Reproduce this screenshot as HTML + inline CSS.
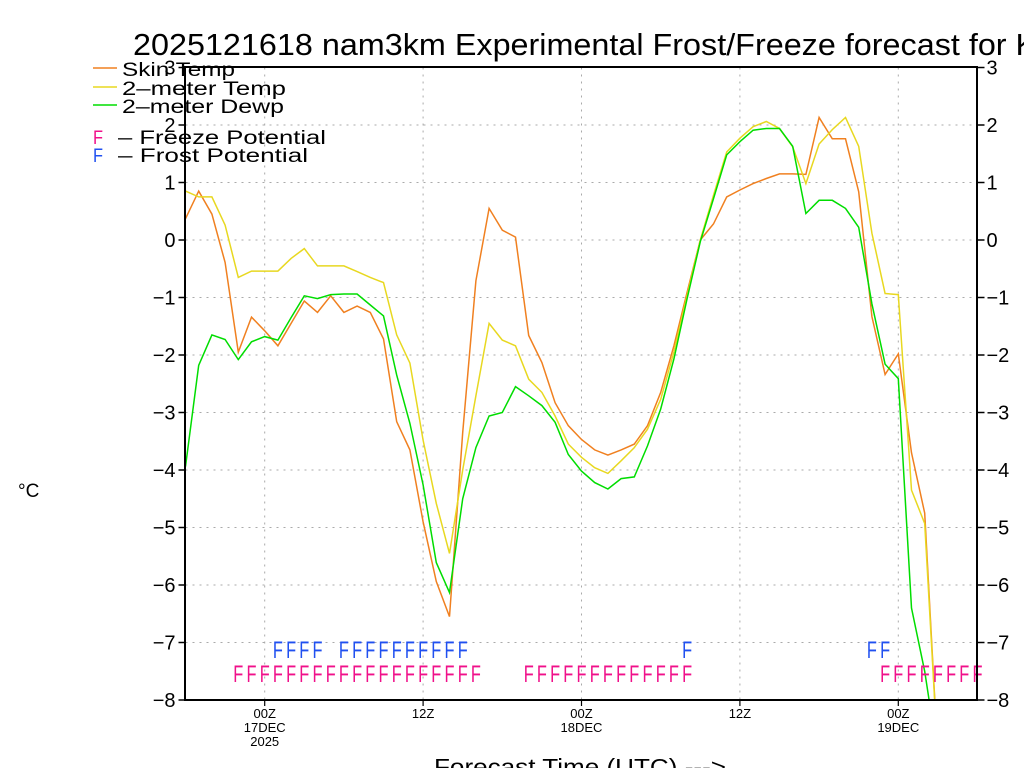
<!DOCTYPE html>
<html><head><meta charset="utf-8"><style>
html,body{margin:0;padding:0;background:#fff;width:1024px;height:768px;overflow:hidden}
svg{display:block;font-family:"Liberation Sans",sans-serif}
</style></head><body>
<svg id="chart" width="1024" height="768" viewBox="0 0 1024 768">
<text x="133" y="55" font-size="31" textLength="976" lengthAdjust="spacingAndGlyphs">2025121618 nam3km Experimental Frost/Freeze forecast for KMSN</text>
<g id="grid"></g>
<g id="series"></g>
<g id="marks"></g>
<rect x="185" y="67" width="792" height="633" fill="none" stroke="#000" stroke-width="2"/>
<g id="axes"></g>
<text x="18" y="497" font-size="19">°C</text>
<text x="434" y="775" font-size="23" textLength="292" lengthAdjust="spacingAndGlyphs">Forecast Time (UTC) ---&gt;</text>
<g>
<line x1="93" y1="68" x2="117" y2="68" stroke="#f08020" stroke-width="1.5"/>
<text x="122" y="76" font-size="19" textLength="113" lengthAdjust="spacingAndGlyphs">Skin Temp</text>
<line x1="93" y1="87" x2="117" y2="87" stroke="#e8d820" stroke-width="1.5"/>
<text x="122" y="95" font-size="19" textLength="164" lengthAdjust="spacingAndGlyphs">2–meter Temp</text>
<line x1="93" y1="105" x2="117" y2="105" stroke="#00dd00" stroke-width="1.5"/>
<text x="122" y="113" font-size="19" textLength="162" lengthAdjust="spacingAndGlyphs">2–meter Dewp</text>
<text x="93" y="144" font-size="19" fill="#f0108a" textLength="10" lengthAdjust="spacingAndGlyphs">F</text>
<text x="118" y="144" font-size="19" textLength="208" lengthAdjust="spacingAndGlyphs">–  Freeze Potential</text>
<text x="93" y="162" font-size="19" fill="#2050f0" textLength="10" lengthAdjust="spacingAndGlyphs">F</text>
<text x="118" y="162" font-size="19" textLength="190" lengthAdjust="spacingAndGlyphs">–  Frost Potential</text>
</g>
</svg>
<script>
const skinTemp=[0.37,0.85,0.45,-0.39,-1.95,-1.34,-1.58,-1.84,-1.45,-1.06,-1.26,-0.97,-1.26,-1.15,-1.26,-1.72,-3.16,-3.65,-4.9,-5.94,-6.55,-3.35,-0.71,0.55,0.17,0.05,-1.66,-2.13,-2.83,-3.23,-3.47,-3.65,-3.74,-3.65,-3.55,-3.23,-2.65,-1.84,-0.91,0.0,0.28,0.75,0.87,0.98,1.07,1.15,1.15,1.14,2.13,1.76,1.76,0.84,-1.33,-2.34,-1.98,-3.7,-4.75,-9,-9,-9,-9];
const temp2m=[0.85,0.75,0.75,0.26,-0.65,-0.54,-0.54,-0.54,-0.32,-0.15,-0.45,-0.45,-0.45,-0.55,-0.65,-0.74,-1.65,-2.14,-3.48,-4.58,-5.45,-4.0,-2.71,-1.45,-1.74,-1.84,-2.42,-2.65,-3.06,-3.55,-3.78,-3.96,-4.06,-3.84,-3.61,-3.29,-2.77,-1.95,-0.97,0.0,0.78,1.53,1.77,1.97,2.06,1.94,1.62,0.98,1.67,1.92,2.13,1.63,0.12,-0.93,-0.95,-4.35,-4.93,-9,-9,-9,-9];
const dewp2m=[-3.94,-2.18,-1.65,-1.73,-2.08,-1.77,-1.68,-1.74,-1.35,-0.97,-1.02,-0.95,-0.94,-0.94,-1.13,-1.32,-2.35,-3.19,-4.26,-5.61,-6.13,-4.5,-3.61,-3.06,-3.0,-2.55,-2.71,-2.88,-3.17,-3.73,-4.02,-4.22,-4.33,-4.15,-4.12,-3.58,-2.94,-2.07,-1.02,-0.03,0.72,1.48,1.71,1.91,1.94,1.94,1.63,0.46,0.69,0.69,0.55,0.22,-1.11,-2.16,-2.41,-6.4,-7.5,-9,-9,-9,-9];
const freezeHours=[4,5,6,7,8,9,10,11,12,13,14,15,16,17,18,19,20,21,22,26,27,28,29,30,31,32,33,34,35,36,37,38,53,54,55,56,57,58,59,60];
const frostHours=[7,8,9,10,12,13,14,15,16,17,18,19,20,21,38,52,53];
const yTicks=[3,2,1,0,-1,-2,-3,-4,-5,-6,-7,-8];
const xTickHours=[6,18,30,42,54];
const xTickLabels=[["00Z","17DEC","2025"],["12Z"],["00Z","18DEC"],["12Z"],["00Z","19DEC"]];

const NS="http://www.w3.org/2000/svg";
const X0=185.5,X1=977.5,Y0=700,Y1=67.5,HMAX=60,VMIN=-8,VMAX=3;
const xs=h=>X0+(X1-X0)*h/HMAX;
const ys=v=>Y0-(Y0-Y1)*(v-VMIN)/(VMAX-VMIN);
function mk(tag,attrs,parent){const e=document.createElementNS(NS,tag);for(const k in attrs)e.setAttribute(k,attrs[k]);parent.appendChild(e);return e;}
const grid=document.getElementById('grid'),axes=document.getElementById('axes'),series=document.getElementById('series'),marks=document.getElementById('marks');
const fmt=v=>v<0?"\u2212"+Math.abs(v):String(v);
yTicks.forEach(v=>{
  const y=ys(v);
  if(v>VMIN&&v<VMAX){const g=mk('line',{x1:X0,x2:X1,y1:y,y2:y,stroke:'#aaa','stroke-dasharray':'2 5'},grid);
  
  }
  const t1=mk('line',{x1:X0-7,x2:X0,y1:y,y2:y,stroke:'#000','stroke-width':1.5},axes);
  
  
  const t2=mk('line',{x1:X1,x2:X1+7,y1:y,y2:y,stroke:'#000','stroke-width':1.5},axes);
  
  
  const l=mk('text',{x:X0-10,y:y+7,'font-size':20,'text-anchor':'end'},axes);l.textContent=fmt(v);
  
  
  const r=mk('text',{x:X1+9,y:y+7,'font-size':20},axes);r.textContent=fmt(v);
  
  
});
xTickHours.forEach((h,i)=>{
  const x=xs(h);
  const g=mk('line',{x1:x,x2:x,y1:Y1,y2:Y0,stroke:'#aaa','stroke-dasharray':'2 5'},grid);
  
  
  const t=mk('line',{x1:x,x2:x,y1:Y0,y2:Y0+6,stroke:'#000','stroke-width':1.2},axes);
  
  
  xTickLabels[i].forEach((s,j)=>{
    const l=mk('text',{x:x,y:718+j*14,'font-size':13,'text-anchor':'middle'},axes);l.textContent=s;
    
    
  });
});
const defs=mk('defs',{},series);
const cp=mk('clipPath',{id:'plotclip'},defs);
mk('rect',{x:X0,y:Y1,width:X1-X0,height:Y0-Y1},cp);
[[skinTemp,'#f08020','skin-temp-line'],[temp2m,'#e8d820','2m-temp-line'],[dewp2m,'#00dd00','2m-dewp-line']].forEach(([arr,c,n])=>{
  const d=arr.map((v,h)=>(h?'L':'M')+xs(h).toFixed(1)+','+ys(v).toFixed(1)).join('');
  const p=mk('path',{d:d,fill:'none',stroke:c,'stroke-width':1.5,'clip-path':'url(#plotclip)'},series);
  
  
});
function letters(hours,color,y,name){
  hours.forEach(h=>{
    const t=mk('text',{x:xs(h)-5,y:y,'font-size':24,fill:color,textLength:10,lengthAdjust:'spacingAndGlyphs'},marks);
    t.textContent='F';
    
    
  });
}
letters(frostHours,'#2050f0',658,'frost-potential-mark');
letters(freezeHours,'#f0108a',682,'freeze-potential-mark');
</script>
</body></html>
